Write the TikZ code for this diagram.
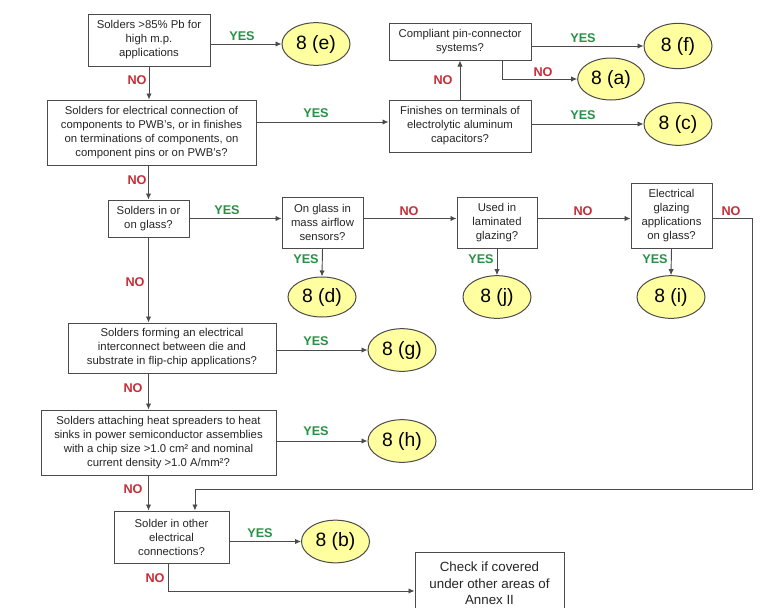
\documentclass[tikz,border=0pt]{standalone}
\usepackage{fontspec}
\setmainfont{Liberation Sans}
\usetikzlibrary{arrows.meta,shapes.geometric}
\definecolor{yesg}{RGB}{40,145,70}
\definecolor{nor}{RGB}{200,45,55}
\definecolor{ellf}{RGB}{255,255,160}
\definecolor{edgec}{RGB}{75,75,75}
\begin{document}
\begin{tikzpicture}[x=0.75pt,y=-0.75pt,
 box/.style={draw=edgec, line width=0.75pt, align=center, inner sep=1pt, text=black!85, font=\fontsize{8.5}{10.5}\selectfont},
 res/.style={ellipse, draw=edgec, line width=0.75pt, fill=ellf, minimum width=51pt, minimum height=32pt, inner sep=0pt, font=\fontsize{14.5}{16}\selectfont},
 arr/.style={draw=edgec, line width=0.7pt, -{Latex[length=4.5pt,width=4pt]}},
 yes/.style={text=yesg, font=\bfseries\fontsize{9.5}{10}\selectfont, inner sep=0pt},
 no/.style={text=nor, font=\bfseries\fontsize{9.5}{10}\selectfont, inner sep=0pt}]
\clip (0,0) rectangle (770,607);
\fill[white] (0,0) rectangle (770,607);

% boxes
\node[box, minimum width=91.5pt, minimum height=39pt] (b1) at (149,40) {Solders >85\% Pb for\\high m.p.\\applications};
\node[box, minimum width=156.75pt, minimum height=48.75pt] (b2) at (151.5,132.5) {Solders for electrical connection of\\components to PWB's, or in finishes\\on terminations of components, on\\component pins or on PWB's?};
\node[box, minimum width=106.5pt, minimum height=39pt] (b3) at (460,126) {Finishes on terminals of\\electrolytic aluminum\\capacitors?};
\node[box, minimum width=106.5pt, minimum height=27.75pt] (b4) at (460,41.5) {Compliant pin-connector\\systems?};
\node[box, minimum width=60.75pt, minimum height=27.75pt] (glass) at (148.5,218.5) {Solders in or\\on glass?};
\node[box, minimum width=60.75pt, minimum height=38.25pt] (mass) at (322.5,222.5) {On glass in\\mass airflow\\sensors?};
\node[box, minimum width=60pt, minimum height=38.25pt] (lam) at (497,222.5) {Used in\\laminated\\glazing?};
\node[box, minimum width=60.75pt, minimum height=48.75pt] (elec) at (671.5,215.5) {Electrical\\glazing\\applications\\on glass?};
\node[box, minimum width=156pt, minimum height=37.5pt] (flip) at (172,348) {Solders forming an electrical\\interconnect between die and\\substrate in flip-chip applications?};
\node[box, minimum width=176.25pt, minimum height=48.75pt] (heat) at (158.5,442.5) {Solders attaching heat spreaders to heat\\sinks in power semiconductor assemblies\\with a chip size >1.0 cm² and nominal\\current density >1.0 A/mm²?};
\node[box, minimum width=86.25pt, minimum height=39pt] (other) at (171.5,537) {Solder in other\\electrical\\connections?};
\node[box, minimum width=111.75pt, minimum height=47.25pt, font=\fontsize{10}{12.5}\selectfont] (check) at (489.5,583.5) {Check if covered\\under other areas of\\Annex II};

% results
\node[res] (e) at (316,44) {8 (e)};
\node[res, minimum height=34pt] (f) at (678,46) {8 (f)};
\node[res, minimum width=50pt, minimum height=31.5pt] (a) at (611,79) {8 (a)};
\node[res] (c) at (678,124) {8 (c)};
\node[res, minimum height=30pt] (d) at (322,297) {8 (d)};
\node[res] (j) at (497,297) {8 (j)};
\node[res] (i) at (671,297) {8 (i)};
\node[res] (g) at (402,350) {8 (g)};
\node[res] (h) at (402,441) {8 (h)};
\node[res] (bb) at (335.5,541.5) {8 (b)};

\coordinate (turn) at (752,489);

% connectors
\draw[arr] (b1.east |- e.west) -- (e.west);
\draw[arr] (b1.south) -- (b1.south |- b2.north);
\draw[arr] ([yshift=3pt]b3.west -| b2.east) -- ([yshift=3pt]b3.west);
\draw[arr] (b3.north) -- (b4.south);
\draw[arr] (b4.east |- f.west) -- (f.west);
\draw[arr] ([xshift=32pt]b4.south) |- (a.west);
\draw[arr] (b3.east |- c.west) -- (c.west);
\draw[arr] (glass.north |- b2.south) -- (glass.north);
\draw[arr] (glass.east) -- (glass.east -| mass.west);
\draw[arr] (mass.south) -- (d.north);
\draw[arr] ([yshift=3pt]mass.east) -- ([yshift=3pt]lam.west);
\draw[arr] (lam.south) -- (j.north);
\draw[arr] ([yshift=3pt]lam.east) -- ([yshift=3pt]lam.east -| elec.west);
\draw[arr] (elec.south) -- (i.north);
\draw[arr] (glass.south) -- (glass.south |- flip.north);
\draw[arr] (flip.east |- g.west) -- (g.west);
\draw[arr] (glass.south |- flip.south) -- (glass.south |- heat.north);
\draw[arr] (heat.east |- h.west) -- (h.west);
\draw[arr] (glass.south |- heat.south) -- (glass.south |- other.north);
\draw[arr] ([yshift=-1.9pt]elec.east) -| (turn) -| ([xshift=17.6pt]other.north);
\draw[arr] (other.east |- bb.west) -- (bb.west);
\draw[arr] ([xshift=-2.6pt]other.south) |- ([yshift=-5.6pt]check.west);

% labels
\node[yes] (l1) at (242,36) {YES};
\node[no] (l2) at (137,80) {NO};
\node[yes] (l3) at (316,113) {YES};
\node[no] (l4) at (443,80) {NO};
\node[yes] (l5) at (583,38) {YES};
\node[no] (l6) at (543,72) {NO};
\node[yes] (l7) at (583,115) {YES};
\node[no] (l8) at (137,180) {NO};
\node[yes] (l9) at (227,210) {YES};
\node[yes] (l10) at (306,259) {YES};
\node[no] (l11) at (409,211) {NO};
\node[yes] (l12) at (481,259) {YES};
\node[no] (l13) at (583,211) {NO};
\node[yes] (l14) at (655,259) {YES};
\node[no] (l15) at (731,211) {NO};
\node[no] (l16) at (135,282) {NO};
\node[yes] (l17) at (316,341) {YES};
\node[no] (l18) at (133,388) {NO};
\node[yes] (l19) at (316,431) {YES};
\node[no] (l20) at (133,489) {NO};
\node[yes] (l21) at (260,533) {YES};
\node[no] (l22) at (155,578) {NO};
\end{tikzpicture}
\end{document}
